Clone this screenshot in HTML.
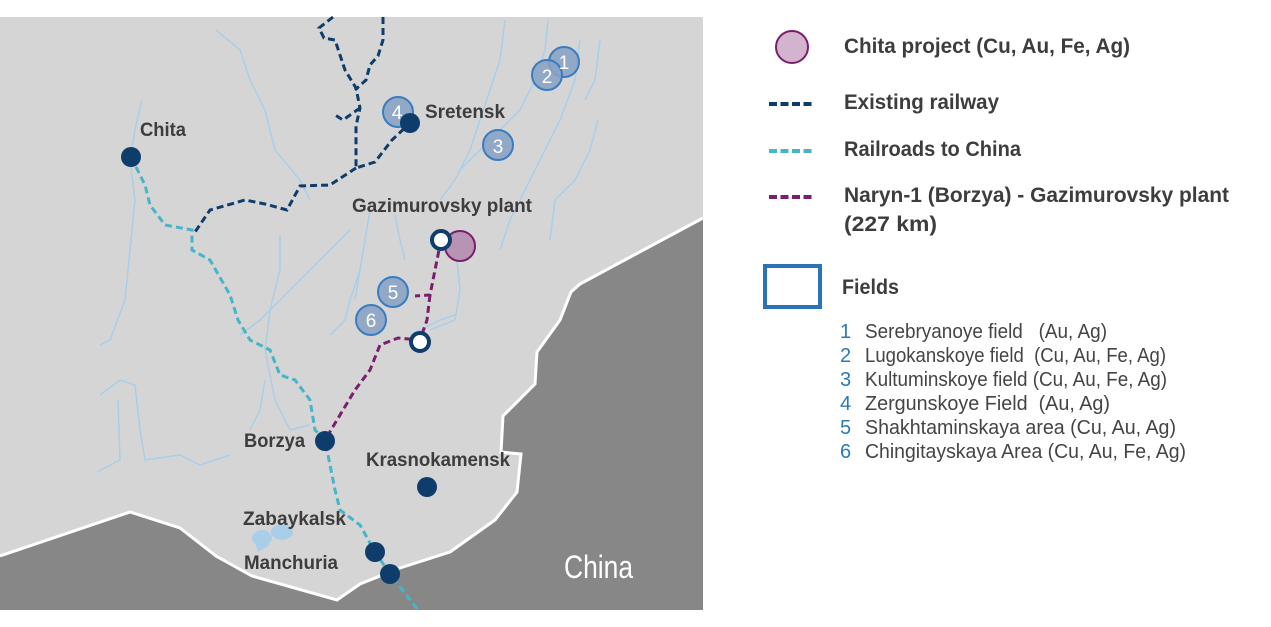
<!DOCTYPE html>
<html><head><meta charset="utf-8"><style>
html,body{margin:0;padding:0;background:#fff;}
svg{display:block;}
.b{font-family:"Liberation Sans Narrow","Liberation Sans",sans-serif;font-weight:bold;fill:#3d3d3d;}
.r{font-family:"Liberation Sans Narrow","Liberation Sans",sans-serif;fill:#444;}
</style></head><body>
<svg width="1271" height="627" viewBox="0 0 1271 627" xmlns="http://www.w3.org/2000/svg">
<rect x="0" y="17" width="703" height="593" fill="#d6d5d6"/>
<path d="M0,556 L130,512 L180,528 L216,556 L252,576 L337,600 L360,584 L400,568 L450,552 L495,520 L517,492 L521,454 L501,452 L503,416 L535,384 L537,352 L560,320 L571,292 L580,284 L703,218 L703,610 L0,610 Z" fill="#878787"/>
<path d="M0,556 L130,512 L180,528 L216,556 L252,576 L337,600 L360,584 L400,568 L450,552 L495,520 L517,492 L521,454 L501,452 L503,416 L535,384 L537,352 L560,320 L571,292 L580,284 L703,218" fill="none" stroke="#fff" stroke-width="3"/>
<g fill="none" stroke="#a9cfe8" stroke-width="1.5">
<path d="M216,30 L240,50 L250,80 L265,110 L275,150 L300,180 L310,200"/>
<path d="M142,100 L135,130 L130,160 L135,200 L130,250 L125,300 L110,340 L100,345"/>
<path d="M100,395 L120,380 L135,385 L140,430 L145,460 L180,455 L200,465 L230,455"/>
<path d="M97,472 L120,460 L118,400"/>
<path d="M280,235 L280,270 L270,310 L265,350 L275,400 L290,430 L310,425"/>
<path d="M350,230 L320,260 L300,280 L280,300 L260,320 L240,335"/>
<path d="M370,210 L365,240 L360,270 L355,300"/>
<path d="M395,215 L400,240 L405,260"/>
<path d="M440,200 L455,180 L470,150 L480,120 L490,90 L500,60 L505,20"/>
<path d="M460,170 L480,150 L500,130 L520,110 L535,80 L545,50 L548,20"/>
<path d="M456,250 L460,290 L455,320 L430,330"/>
<path d="M500,250 L510,220 L525,190 L540,160 L560,120 L575,80 L580,40"/>
<path d="M550,240 L555,200 L575,180 L590,150 L598,120"/>
<path d="M600,40 L595,80 L585,100"/>
<path d="M330,335 L345,320 L350,300 L360,270"/>
<path d="M410,335 L440,320 L455,315"/>
<path d="M250,430 L260,410 L265,380"/>
</g>
<g fill="#a9cfe8"><ellipse cx="262" cy="538" rx="10" ry="8"/><ellipse cx="282" cy="532" rx="11" ry="8"/><path d="M254,540 L270,545 L258,552 Z"/></g>
<!-- existing railway -->
<g fill="none" stroke="#0f3d6b" stroke-width="3" stroke-dasharray="7,4">
<path d="M333,17 L319,28 L324,38 L335,40 L345,70 L356,88 L360,108 L356,126 L356,168 L375,162 L392,140 L410,123"/>
<path d="M383,17 L383,40 L378,56 L370,65 L366,80 L355,90"/>
<path d="M360,108 L343,120 L335,115"/>
<path d="M356,168 L330,185 L300,186 L287,210 L265,204 L245,200 L210,210 L195,232"/>
</g>
<!-- railroads to China -->
<path d="M131,157 L145,185 L150,205 L165,225 L192,230 L192,250 L210,260 L230,295 L238,320 L250,340 L270,350 L280,375 L295,380 L310,400 L315,430 L325,440 L335,490 L340,510 L360,525 L375,552 L390,574 L418,610" fill="none" stroke="#45b5c8" stroke-width="3" stroke-dasharray="7,4"/>
<!-- Naryn -->
<g fill="none" stroke="#7a1f6b" stroke-width="3" stroke-dasharray="7,4">
<path d="M441,240 L430,295 L415,296"/>
<path d="M430,295 L427,320 L420,340 L398,338 L380,345 L370,370 L355,390 L325,440"/>
</g>
<!-- fields -->
<g fill="#8aa3c4" stroke="#3a7cc0" stroke-width="2" fill-opacity="0.9">
<circle cx="564" cy="62" r="15"/><circle cx="547" cy="75" r="15"/><circle cx="498" cy="145" r="15"/><circle cx="398" cy="112" r="15"/><circle cx="393" cy="292" r="15"/><circle cx="371" cy="320" r="15"/>
</g>
<g font-family="Liberation Sans Narrow, Liberation Sans, sans-serif" font-size="19" fill="#fff" text-anchor="middle">
<text x="564" y="69">1</text><text x="547" y="83">2</text><text x="498" y="153">3</text><text x="397" y="119">4</text><text x="393" y="299">5</text><text x="371" y="327">6</text>
</g>
<circle cx="460" cy="246" r="15" fill="#b894b4" stroke="#7a1f6b" stroke-width="2"/>
<g fill="#0f3d6b"><circle cx="131" cy="157" r="10"/><circle cx="410" cy="123" r="10"/><circle cx="325" cy="441" r="10"/><circle cx="427" cy="487" r="10"/><circle cx="375" cy="552" r="10"/><circle cx="390" cy="574" r="10"/></g>
<g fill="#fff" stroke="#0f3d6b" stroke-width="4"><circle cx="441" cy="240" r="9"/><circle cx="420" cy="342" r="9"/></g>
<g class="b" font-size="19">
<text x="140" y="136" textLength="46" lengthAdjust="spacingAndGlyphs">Chita</text>
<text x="425" y="118" textLength="80" lengthAdjust="spacingAndGlyphs">Sretensk</text>
<text x="352" y="212" textLength="180" lengthAdjust="spacingAndGlyphs">Gazimurovsky plant</text>
<text x="244" y="447" textLength="61" lengthAdjust="spacingAndGlyphs">Borzya</text>
<text x="366" y="466" textLength="144" lengthAdjust="spacingAndGlyphs">Krasnokamensk</text>
<text x="243" y="525" textLength="103" lengthAdjust="spacingAndGlyphs">Zabaykalsk</text>
<text x="244" y="569" textLength="94" lengthAdjust="spacingAndGlyphs">Manchuria</text>
</g>
<text x="564" y="578" font-family="Liberation Sans Narrow, Liberation Sans, sans-serif" font-size="32" fill="#fff" textLength="69" lengthAdjust="spacingAndGlyphs">China</text>
<!-- legend -->
<circle cx="792" cy="47" r="16" fill="#d4b3cf" stroke="#7a1f6b" stroke-width="2"/>
<line x1="769" y1="104" x2="812" y2="104" stroke="#0f3d6b" stroke-width="4" stroke-dasharray="8,3.5"/>
<line x1="769" y1="151" x2="812" y2="151" stroke="#45b5c8" stroke-width="4" stroke-dasharray="8,3.5"/>
<line x1="769" y1="197" x2="812" y2="197" stroke="#7a1f6b" stroke-width="4" stroke-dasharray="8,3.5"/>
<rect x="765" y="266" width="55" height="41" fill="none" stroke="#2a73b5" stroke-width="4"/>
<g class="b" font-size="21" fill="#555">
<text x="844" y="53" textLength="286" lengthAdjust="spacingAndGlyphs">Chita project (Cu, Au, Fe, Ag)</text>
<text x="844" y="109" textLength="155" lengthAdjust="spacingAndGlyphs">Existing railway</text>
<text x="844" y="156" textLength="177" lengthAdjust="spacingAndGlyphs">Railroads to China</text>
<text x="844" y="202" textLength="385" lengthAdjust="spacingAndGlyphs">Naryn-1 (Borzya) - Gazimurovsky plant</text>
<text x="844" y="231" textLength="93" lengthAdjust="spacingAndGlyphs">(227 km)</text>
<text x="842" y="294" textLength="57" lengthAdjust="spacingAndGlyphs">Fields</text>
</g>
<g class="r" font-size="20">
<g fill="#2a7ab8"><text x="840" y="338">1</text><text x="840" y="362">2</text><text x="840" y="386">3</text><text x="840" y="410">4</text><text x="840" y="434">5</text><text x="840" y="458">6</text></g>
<text x="865" y="338" textLength="242" lengthAdjust="spacingAndGlyphs" xml:space="preserve">Serebryanoye field   (Au, Ag)</text>
<text x="865" y="362" textLength="301" lengthAdjust="spacingAndGlyphs" xml:space="preserve">Lugokanskoye field  (Cu, Au, Fe, Ag)</text>
<text x="865" y="386" textLength="302" lengthAdjust="spacingAndGlyphs">Kultuminskoye field (Cu, Au, Fe, Ag)</text>
<text x="865" y="410" textLength="245" lengthAdjust="spacingAndGlyphs" xml:space="preserve">Zergunskoye Field  (Au, Ag)</text>
<text x="865" y="434" textLength="311" lengthAdjust="spacingAndGlyphs">Shakhtaminskaya area (Cu, Au, Ag)</text>
<text x="865" y="458" textLength="321" lengthAdjust="spacingAndGlyphs">Chingitayskaya Area (Cu, Au, Fe, Ag)</text>
</g>
</svg>
</body></html>
